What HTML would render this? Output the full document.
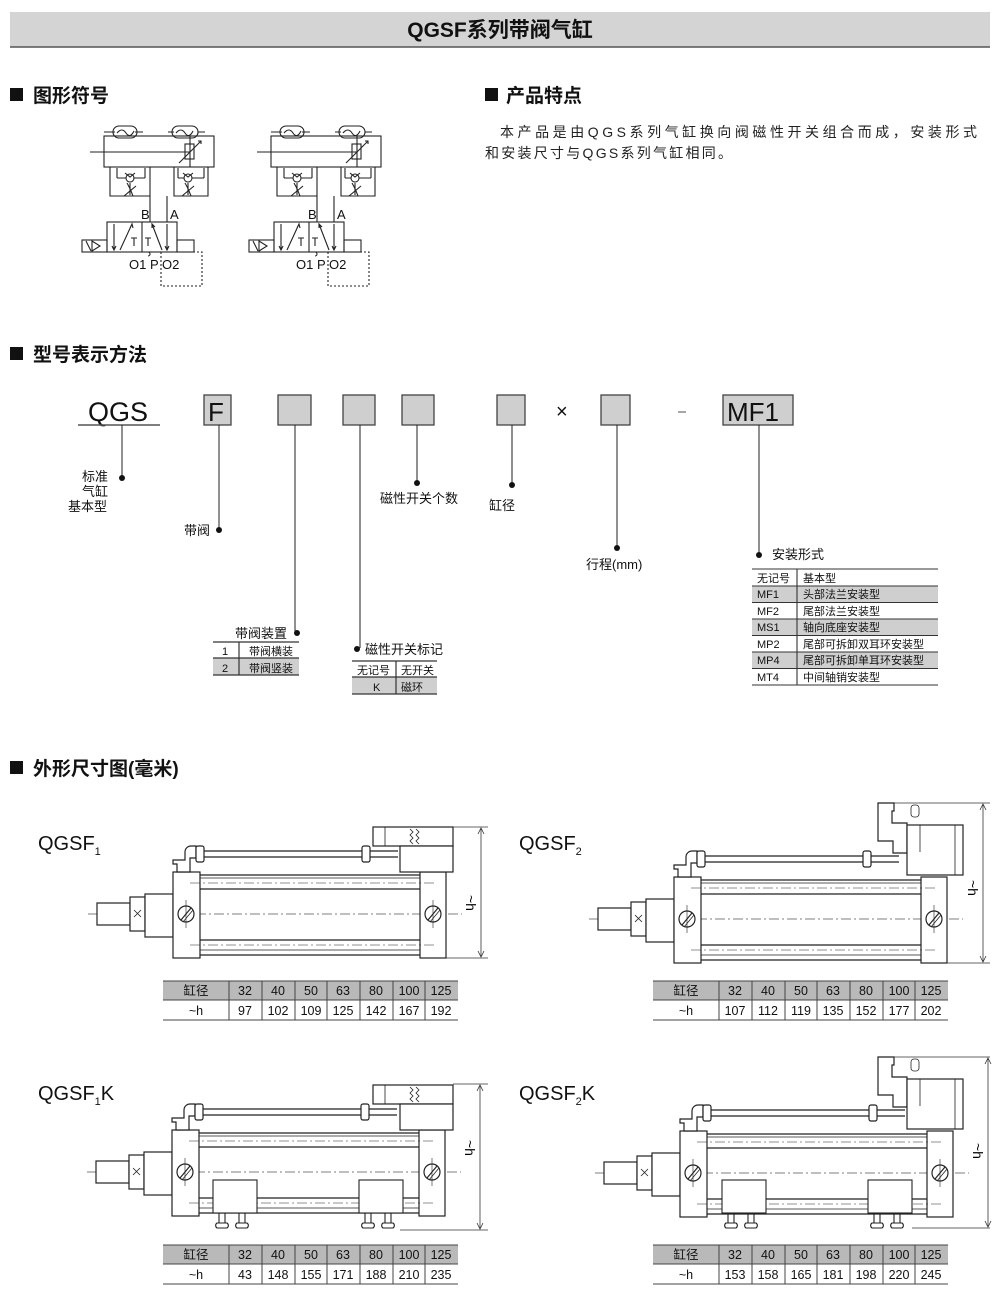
<!DOCTYPE html>
<html><head><meta charset="utf-8"><style>
html,body{margin:0;padding:0;background:#fff;}
svg{display:block;font-family:"Liberation Sans","Noto Sans CJK SC",sans-serif;}
</style></head><body>
<svg width="1000" height="1298" viewBox="0 0 1000 1298" xmlns="http://www.w3.org/2000/svg">
<defs>
<g id="cyl" fill="none" stroke="#222" stroke-width="1.2">
  <line x1="88" y1="914" x2="462" y2="914" stroke="#555" stroke-width="0.7" stroke-dasharray="10 3 2 3"/>
  <rect x="97" y="903" width="33" height="22" fill="#fff"/>
  <rect x="130" y="897" width="15" height="34" fill="#fff"/>
  <path d="M134 910 l7 7 M141 910 l-7 7" stroke-width="0.8"/>
  <rect x="145" y="894" width="28" height="43" fill="#fff"/>
  <rect x="173" y="872" width="27" height="86" fill="#fff"/>
  <rect x="420" y="872" width="26" height="86" fill="#fff"/>
  <line x1="200" y1="875" x2="420" y2="875"/>
  <line x1="200" y1="878" x2="420" y2="878" stroke-width="0.7"/>
  <line x1="190" y1="883" x2="435" y2="883" stroke-width="0.6" stroke-dasharray="10 3 2 3"/>
  <line x1="200" y1="889" x2="420" y2="889"/>
  <line x1="200" y1="940" x2="420" y2="940"/>
  <line x1="190" y1="945" x2="435" y2="945" stroke-width="0.6" stroke-dasharray="10 3 2 3"/>
  <line x1="200" y1="950" x2="420" y2="950" stroke-width="0.7"/>
  <line x1="200" y1="955" x2="420" y2="955"/>
  <circle cx="186" cy="914" r="8"/>
  <line x1="181" y1="920" x2="191" y2="908"/>
  <line x1="183" y1="922" x2="193" y2="910" stroke-width="0.8"/>
  <circle cx="433" cy="914" r="8"/>
  <line x1="428" y1="920" x2="438" y2="908"/>
  <line x1="430" y1="922" x2="440" y2="910" stroke-width="0.8"/>
  <line x1="186" y1="900" x2="186" y2="928" stroke-width="0.6"/>
  <line x1="433" y1="900" x2="433" y2="928" stroke-width="0.6"/>
  <path d="M177 872 v-8 h-4 v-4 h12 v-8 a6 6 0 0 1 6 -6 h5 v12 h-6 v14 z" fill="#fff"/>
  <line x1="196" y1="851" x2="398" y2="851"/>
  <line x1="196" y1="857" x2="398" y2="857"/>
  <rect x="196" y="846" width="8" height="16" rx="2" fill="#fff"/>
  <rect x="362" y="846" width="8" height="16" rx="2" fill="#fff"/>
</g>
<g id="valve1" fill="#fff" stroke="#222" stroke-width="1.2">
  <rect x="373" y="827" width="80" height="19"/>
  <rect x="400" y="846" width="53" height="26"/>
  <line x1="385" y1="827" x2="385" y2="846" stroke-width="0.8"/>
  <path d="M410 829 l3 3 l-3 3 l3 3 l-3 3 l3 3 M416 829 l3 3 l-3 3 l3 3 l-3 3 l3 3" fill="none" stroke-width="0.8"/>
</g>
<g id="valve2" fill="#fff" stroke="#222" stroke-width="1.2">
  <path d="M878 803 h16 v8 h-2 v12 h15 v30 h-14 v-12 h-15 z"/>
  <rect x="907" y="825" width="56" height="50"/>
  <line x1="920" y1="825" x2="920" y2="852" stroke-width="0.8"/>
  <line x1="955" y1="825" x2="955" y2="875" stroke-width="0.8"/>
  <rect x="911" y="805" width="8" height="12" rx="3" stroke-width="0.8"/>
</g>
<g id="sw" fill="#fff" stroke="#222" stroke-width="1.1">
  <rect x="0" y="0" width="44" height="33"/>
  <path d="M6 33 v10 M12 33 v10 M4 43 h10 a3 3 0 0 1 0 5 h-10 a3 3 0 0 1 0 -5 z"/>
  <path d="M26 33 v10 M32 33 v10 M24 43 h10 a3 3 0 0 1 0 5 h-10 a3 3 0 0 1 0 -5 z"/>
</g>
<g id="sym" fill="none" stroke="#222" stroke-width="1.1">
  <path d="M104 132 h11 M135 132 h8 M168 132 h6 M198 132 h7"/>
  <rect x="113" y="126" width="24" height="12" rx="6"/>
  <path d="M117 133 q5 -6 9 0 t8 -2"/>
  <rect x="172" y="126" width="26" height="12" rx="6"/>
  <path d="M176 133 q5 -6 9 0 t8 -2"/>
  <rect x="104" y="136" width="110" height="31"/>
  <line x1="90" y1="152" x2="190" y2="152"/>
  <line x1="190" y1="136" x2="190" y2="167"/>
  <rect x="185" y="144" width="9" height="15"/>
  <line x1="179" y1="163" x2="201" y2="141"/>
  <path d="M198 141 l3 0 l0 3" />
  <path d="M110 167 v29 h40 v-29 M117 178 v-10 M117 178 h28 M145 178 v-10"/>
  <path d="M174 167 v29 h34 v-29 M178 178 v-10 M178 178 h26 M204 178 v-10"/>
  <circle cx="130" cy="178" r="4" fill="#fff"/><path d="M125 173 l5 4 l5 -4"/>
  <circle cx="188" cy="178" r="4" fill="#fff"/><path d="M183 173 l5 4 l5 -4"/>
  <path d="M124 196 l12 -10 M130 183 v12 M133 196 q-3 -8 -6 -13"/>
  <path d="M182 196 l12 -10 M188 183 v12 M191 196 q-3 -8 -6 -13"/>
  <path d="M150 196 v26 M167 196 v26"/>
  <rect x="107" y="222" width="70" height="30"/>
  <line x1="142" y1="222" x2="142" y2="252"/>
  <rect x="82" y="240" width="25" height="12"/>
  <path d="M86 241 l5 10 M92 241 v10 l8 -5 z"/>
  <rect x="177" y="240" width="17" height="12"/>
  <path d="M114 224 v26 M112 246 l2 4 l2 -4 M120 250 l12 -26 M130 228 l2 -4 l1 4"/>
  <path d="M134 246 v-8 M131 238 h6 M148 246 v-8 M145 238 h6 M148 252 a2 2 0 0 1 0 4"/>
  <path d="M162 250 l-10 -26 M152 228 l-0 -4 l3 3 M167 224 v26 M165 246 l2 4 l2 -4"/>
  <path d="M161 252 v34 h41 v-34 h-8" stroke-dasharray="2 2"/>
</g>
<g id="tbl" stroke="#444" stroke-width="1">
<rect x="163" y="981" width="295" height="19" fill="#b9b9b9" stroke="none"/>
<line x1="163" y1="981" x2="458" y2="981"/><line x1="163" y1="1000" x2="458" y2="1000"/><line x1="163" y1="1020" x2="458" y2="1020"/>
<line x1="229" y1="981" x2="229" y2="1020"/><line x1="262" y1="981" x2="262" y2="1020"/><line x1="295" y1="981" x2="295" y2="1020"/><line x1="327" y1="981" x2="327" y2="1020"/><line x1="360" y1="981" x2="360" y2="1020"/><line x1="393" y1="981" x2="393" y2="1020"/><line x1="425" y1="981" x2="425" y2="1020"/>
</g>
</defs>

<!-- Title -->
<rect x="10" y="12" width="980" height="35" fill="#d4d4d4"/>
<line x1="10" y1="47" x2="990" y2="47" stroke="#555" stroke-width="1.5"/>
<text x="500" y="37" font-size="21" font-weight="bold" text-anchor="middle" fill="#111">QGSF系列带阀气缸</text>

<g font-size="19" font-weight="bold" fill="#111">
<rect x="10" y="88" width="13" height="13"/><text x="33" y="102">图形符号</text>
<rect x="485" y="88" width="13" height="13"/><text x="506" y="102">产品特点</text>
<rect x="10" y="347" width="13" height="13"/><text x="33" y="361">型号表示方法</text>
<rect x="10" y="761" width="13" height="13"/><text x="33" y="775">外形尺寸图(毫米)</text>
</g>
<text x="500" y="137" font-size="14" fill="#222" textLength="477">本产品是由QGS系列气缸换向阀磁性开关组合而成，安装形式</text>
<text x="485" y="158" font-size="14" fill="#222" textLength="247">和安装尺寸与QGS系列气缸相同。</text>

<use href="#sym"/>
<use href="#sym" x="167"/>
<g font-size="13" fill="#111">
<text x="141" y="219">B</text><text x="170" y="219">A</text>
<text x="129" y="269">O1 P O2</text>
<text x="308" y="219">B</text><text x="337" y="219">A</text>
<text x="296" y="269">O1 P O2</text>
</g>

<g fill="#111">
<text x="88" y="421" font-size="27">QGS</text>
<line x1="78" y1="425" x2="160" y2="425" stroke="#555" stroke-width="1.5"/>
<g stroke="#444" stroke-width="1.3" fill="#cfcfcf">
<rect x="204" y="395" width="27" height="30"/>
<rect x="278" y="395" width="33" height="30"/>
<rect x="343" y="395" width="32" height="30"/>
<rect x="402" y="395" width="32" height="30"/>
<rect x="497" y="395" width="28" height="30"/>
<rect x="601" y="395" width="29" height="30"/>
<rect x="723" y="395" width="70" height="30"/>
</g>
<text x="208" y="421" font-size="26">F</text>
<text x="727" y="421" font-size="26">MF1</text>
<text x="556" y="418" font-size="20">×</text>
<line x1="678" y1="412" x2="686" y2="412" stroke="#888" stroke-width="1.5"/>
<g stroke="#222" stroke-width="1">
<line x1="122" y1="425" x2="122" y2="477"/>
<line x1="219" y1="425" x2="219" y2="530"/>
<line x1="295" y1="425" x2="295" y2="632"/>
<line x1="360" y1="425" x2="360" y2="648"/>
<line x1="417" y1="425" x2="417" y2="482"/>
<line x1="512" y1="425" x2="512" y2="484"/>
<line x1="617" y1="425" x2="617" y2="547"/>
<line x1="759" y1="425" x2="759" y2="553"/>
</g>
<circle cx="122" cy="478" r="3"/><circle cx="219" cy="530" r="3"/>
<circle cx="297" cy="633" r="3"/><circle cx="357" cy="649" r="3"/>
<circle cx="417" cy="483" r="3"/><circle cx="512" cy="485" r="3"/>
<circle cx="617" cy="548" r="3"/><circle cx="759" cy="555" r="3"/>
<g font-size="13">
<text x="82" y="481">标准</text><text x="82" y="496">气缸</text><text x="68" y="511">基本型</text>
<text x="184" y="535">带阀</text>
<text x="380" y="503">磁性开关个数</text>
<text x="489" y="510">缸径</text>
<text x="586" y="569">行程(mm)</text>
<text x="772" y="559">安装形式</text>
<text x="235" y="638">带阀装置</text>
<text x="365" y="654">磁性开关标记</text>
</g>
<rect x="213" y="658" width="86" height="17" fill="#cfcfcf"/>
<g stroke="#333" stroke-width="1.2"><line x1="213" y1="642" x2="299" y2="642"/><line x1="213" y1="658" x2="299" y2="658"/><line x1="213" y1="675" x2="299" y2="675"/><line x1="239" y1="642" x2="239" y2="675"/></g>
<g font-size="11"><text x="222" y="655">1</text><text x="249" y="655">带阀横装</text><text x="222" y="672">2</text><text x="249" y="672">带阀竖装</text></g>
<rect x="352" y="677" width="85" height="17" fill="#cfcfcf"/>
<g stroke="#333" stroke-width="1.2"><line x1="352" y1="661" x2="437" y2="661"/><line x1="352" y1="677" x2="437" y2="677"/><line x1="352" y1="694" x2="437" y2="694"/><line x1="396" y1="661" x2="396" y2="694"/></g>
<g font-size="11"><text x="357" y="674">无记号</text><text x="401" y="674">无开关</text><text x="373" y="691">K</text><text x="401" y="691">磁环</text></g>
<g fill="#cfcfcf"><rect x="752" y="586" width="186" height="16.6"/><rect x="752" y="619" width="186" height="16.6"/><rect x="752" y="652" width="186" height="16.6"/></g>
<g stroke="#333" stroke-width="1.1">
<line x1="752" y1="569" x2="938" y2="569"/><line x1="752" y1="586" x2="938" y2="586"/><line x1="752" y1="602.5" x2="938" y2="602.5"/><line x1="752" y1="619" x2="938" y2="619"/><line x1="752" y1="635.5" x2="938" y2="635.5"/><line x1="752" y1="652" x2="938" y2="652"/><line x1="752" y1="668.5" x2="938" y2="668.5"/><line x1="752" y1="685" x2="938" y2="685"/>
<line x1="797" y1="569" x2="797" y2="685"/></g>
<g font-size="11">
<text x="757" y="582">无记号</text><text x="803" y="582">基本型</text>
<text x="757" y="598">MF1</text><text x="803" y="598">头部法兰安装型</text>
<text x="757" y="615">MF2</text><text x="803" y="615">尾部法兰安装型</text>
<text x="757" y="631">MS1</text><text x="803" y="631">轴向底座安装型</text>
<text x="757" y="648">MP2</text><text x="803" y="648">尾部可拆卸双耳环安装型</text>
<text x="757" y="664">MP4</text><text x="803" y="664">尾部可拆卸单耳环安装型</text>
<text x="757" y="681">MT4</text><text x="803" y="681">中间轴销安装型</text>
</g>
</g>

<g font-size="20" fill="#111">
<text x="38" y="850">QGSF<tspan font-size="11" dy="5">1</tspan></text>
<text x="519" y="850">QGSF<tspan font-size="11" dy="5">2</tspan></text>
<text x="38" y="1100">QGSF<tspan font-size="11" dy="5">1</tspan><tspan dy="-5">K</tspan></text>
<text x="519" y="1100">QGSF<tspan font-size="11" dy="5">2</tspan><tspan dy="-5">K</tspan></text>
</g>

<!-- F1 -->
<use href="#cyl"/>
<use href="#valve1"/>
<g stroke="#333" stroke-width="0.8" fill="none">
<line x1="453" y1="827" x2="488" y2="827"/><line x1="446" y1="958" x2="488" y2="958"/>
<line x1="481" y1="829" x2="481" y2="956"/><path d="M478 834 l3 -6 l3 6 M478 951 l3 6 l3 -6"/>
</g>
<text transform="translate(466,895) rotate(90)" font-size="14">~h</text>

<!-- F2 -->
<use href="#cyl" transform="translate(501,5)"/>
<use href="#valve2"/>
<g stroke="#333" stroke-width="0.8" fill="none">
<line x1="894" y1="803" x2="990" y2="803"/><line x1="947" y1="963" x2="990" y2="963"/>
<line x1="983" y1="805" x2="983" y2="961"/><path d="M980 810 l3 -6 l3 6 M980 956 l3 6 l3 -6"/>
</g>
<text transform="translate(968,880) rotate(90)" font-size="14">~h</text>

<!-- F1K -->
<use href="#cyl" transform="translate(-1,258)"/>
<use href="#valve1" transform="translate(0,258)"/>
<use href="#sw" x="213" y="1180"/>
<use href="#sw" x="359" y="1180"/>
<g stroke="#333" stroke-width="0.8" fill="none">
<line x1="453" y1="1084" x2="488" y2="1084"/><line x1="400" y1="1230" x2="488" y2="1230"/>
<line x1="480" y1="1086" x2="480" y2="1228"/><path d="M477 1091 l3 -6 l3 6 M477 1223 l3 6 l3 -6"/>
</g>
<text transform="translate(465,1140) rotate(90)" font-size="14">~h</text>

<!-- F2K -->
<use href="#cyl" transform="translate(507,259)"/>
<use href="#valve2" transform="translate(0,254)"/>
<use href="#sw" x="722" y="1180"/>
<use href="#sw" x="868" y="1180"/>
<g stroke="#333" stroke-width="0.8" fill="none">
<line x1="894" y1="1057" x2="990" y2="1057"/><line x1="912" y1="1228" x2="990" y2="1228"/>
<line x1="988" y1="1059" x2="988" y2="1226"/><path d="M985 1064 l3 -6 l3 6 M985 1221 l3 6 l3 -6"/>
</g>
<text transform="translate(973,1143) rotate(90)" font-size="14">~h</text>

<!-- Tables -->
<use href="#tbl"/>
<use href="#tbl" x="490"/>
<use href="#tbl" y="264"/>
<use href="#tbl" x="490" y="264"/>
<g font-size="12.5" fill="#111" text-anchor="middle">
<text x="196" y="995">缸径</text><text x="245" y="995">32</text><text x="278" y="995">40</text><text x="311" y="995">50</text><text x="343" y="995">63</text><text x="376" y="995">80</text><text x="409" y="995">100</text><text x="441" y="995">125</text>
<text x="196" y="1015">~h</text><text x="245" y="1015">97</text><text x="278" y="1015">102</text><text x="311" y="1015">109</text><text x="343" y="1015">125</text><text x="376" y="1015">142</text><text x="409" y="1015">167</text><text x="441" y="1015">192</text>
</g>
<g font-size="12.5" fill="#111" text-anchor="middle" transform="translate(490,0)">
<text x="196" y="995">缸径</text><text x="245" y="995">32</text><text x="278" y="995">40</text><text x="311" y="995">50</text><text x="343" y="995">63</text><text x="376" y="995">80</text><text x="409" y="995">100</text><text x="441" y="995">125</text>
<text x="196" y="1015">~h</text><text x="245" y="1015">107</text><text x="278" y="1015">112</text><text x="311" y="1015">119</text><text x="343" y="1015">135</text><text x="376" y="1015">152</text><text x="409" y="1015">177</text><text x="441" y="1015">202</text>
</g>
<g font-size="12.5" fill="#111" text-anchor="middle" transform="translate(0,264)">
<text x="196" y="995">缸径</text><text x="245" y="995">32</text><text x="278" y="995">40</text><text x="311" y="995">50</text><text x="343" y="995">63</text><text x="376" y="995">80</text><text x="409" y="995">100</text><text x="441" y="995">125</text>
<text x="196" y="1015">~h</text><text x="245" y="1015">43</text><text x="278" y="1015">148</text><text x="311" y="1015">155</text><text x="343" y="1015">171</text><text x="376" y="1015">188</text><text x="409" y="1015">210</text><text x="441" y="1015">235</text>
</g>
<g font-size="12.5" fill="#111" text-anchor="middle" transform="translate(490,264)">
<text x="196" y="995">缸径</text><text x="245" y="995">32</text><text x="278" y="995">40</text><text x="311" y="995">50</text><text x="343" y="995">63</text><text x="376" y="995">80</text><text x="409" y="995">100</text><text x="441" y="995">125</text>
<text x="196" y="1015">~h</text><text x="245" y="1015">153</text><text x="278" y="1015">158</text><text x="311" y="1015">165</text><text x="343" y="1015">181</text><text x="376" y="1015">198</text><text x="409" y="1015">220</text><text x="441" y="1015">245</text>
</g>
</svg>
</body></html>
